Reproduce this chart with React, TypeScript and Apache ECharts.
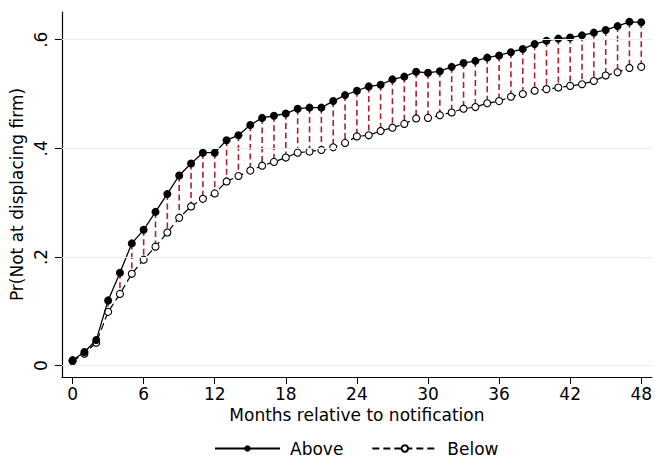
import React, { useEffect, useRef } from "react";
import * as echarts from "echarts";

const months = [
  0, 1, 2, 3, 4, 5, 6, 7, 8, 9, 10, 11, 12, 13, 14, 15, 16, 17, 18, 19, 20, 21, 22, 23, 24,
  25, 26, 27, 28, 29, 30, 31, 32, 33, 34, 35, 36, 37, 38, 39, 40, 41, 42, 43, 44, 45, 46, 47, 48,
];
const above = [
  0.01, 0.025, 0.047, 0.12, 0.171, 0.225, 0.25, 0.283, 0.316, 0.35, 0.372, 0.392, 0.392, 0.415,
  0.424, 0.443, 0.456, 0.46, 0.464, 0.473, 0.475, 0.475, 0.487, 0.498, 0.506, 0.514, 0.517, 0.527,
  0.532, 0.541, 0.539, 0.542, 0.55, 0.557, 0.561, 0.567, 0.571, 0.577, 0.583, 0.592, 0.598, 0.602,
  0.604, 0.608, 0.613, 0.618, 0.625, 0.633, 0.632,
];
const below = [
  0.008, 0.022, 0.042, 0.099, 0.132, 0.169, 0.195, 0.219, 0.245, 0.272, 0.293, 0.307, 0.317, 0.339,
  0.349, 0.359, 0.368, 0.375, 0.383, 0.392, 0.394, 0.397, 0.402, 0.41, 0.422, 0.424, 0.432, 0.438,
  0.445, 0.455, 0.456, 0.461, 0.466, 0.473, 0.476, 0.483, 0.487, 0.495, 0.5, 0.506, 0.509, 0.512,
  0.515, 0.518, 0.524, 0.534, 0.54, 0.548, 0.55,
];
const xTicks = [0, 6, 12, 18, 24, 30, 36, 42, 48];
const yTicks = [0, 0.2, 0.4, 0.6];

const FONT = "DejaVu Sans";

export default function App() {
  const ref = useRef<HTMLDivElement>(null);
  useEffect(() => {
    if (!ref.current) return;
    const chart = echarts.init(ref.current, null, { renderer: "svg" });
    const fmtY = (v: number) => {
      const r = Math.round(v * 10) / 10;
      if (r === 0) return "0";
      return String(r).replace(/^0/, "");
    };
    chart.setOption({
      animation: false,
      backgroundColor: "#ffffff",
      textStyle: { fontFamily: FONT },
      grid: { left: 58, right: 1, top: 12, bottom: 80, containLabel: false },
      xAxis: {
        type: "value",
        min: -0.9,
        max: 48.9,
        name: "Months relative to notification",
        nameLocation: "middle",
        nameGap: 26,
        nameTextStyle: { fontFamily: FONT, fontSize: 17, color: "#000" },
        axisLine: { show: true, onZero: false, lineStyle: { color: "#000", width: 1.2 } },
        axisTick: { show: true, length: 7, customValues: xTicks, lineStyle: { color: "#000" } },
        axisLabel: {
          customValues: xTicks,
          fontFamily: FONT,
          fontSize: 17,
          color: "#000",
          margin: 8,
        },
        splitLine: { show: false },
      },
      yAxis: {
        type: "value",
        min: -0.021,
        max: 0.651,
        name: "Pr(Not at displacing firm)",
        nameLocation: "middle",
        nameGap: 34,
        nameTextStyle: { fontFamily: FONT, fontSize: 17, color: "#000" },
        axisLine: { show: true, onZero: false, lineStyle: { color: "#000", width: 1.2 } },
        axisTick: { show: true, length: 7, customValues: yTicks, lineStyle: { color: "#000" } },
        axisLabel: {
          customValues: yTicks,
          rotate: 90,
          fontFamily: FONT,
          fontSize: 17,
          color: "#000",
          margin: 12,
          formatter: fmtY,
        },
        splitLine: { show: false },
      },
      legend: {
        left: 214,
        top: 440,
        padding: 0,
        itemWidth: 65,
        itemHeight: 8,
        itemGap: 28,
        textStyle: { fontFamily: FONT, fontSize: 17, color: "#000", padding: [0, 0, 0, 5] },
        data: ["Above", "Below"],
      },
      series: [
        {
          name: "grid",
          type: "line",
          data: [],
          silent: true,
          markLine: {
            silent: true,
            symbol: "none",
            label: { show: false },
            lineStyle: { color: "#e6eef1", type: "solid", width: 1.2 },
            data: yTicks.map((v) => ({ yAxis: v })),
          },
        },
        {
          name: "gap",
          type: "custom",
          silent: true,
          z: 1,
          data: months.map((m, i) => [m, above[i], below[i]]),
          renderItem: (_params: any, api: any) => {
            const p1 = api.coord([api.value(0), api.value(1)]);
            const p2 = api.coord([api.value(0), api.value(2)]);
            return {
              type: "line",
              shape: { x1: p1[0], y1: p1[1], x2: p2[0], y2: p2[1] },
              style: { stroke: "#a8222f", lineWidth: 1.6, lineDash: [6, 3.5] },
            };
          },
        },
        {
          name: "Above",
          type: "line",
          z: 3,
          data: months.map((m, i) => [m, above[i]]),
          symbol: "circle",
          symbolSize: 8,
          showAllSymbol: true,
          itemStyle: { color: "#000", borderColor: "#000", borderWidth: 0 },
          lineStyle: { color: "#000", width: 1.3, type: "solid" },
        },
        {
          name: "Below",
          type: "line",
          z: 2,
          data: months.map((m, i) => [m, below[i]]),
          symbol: "circle",
          symbolSize: 7,
          showAllSymbol: true,
          itemStyle: { color: "#fff", borderColor: "#000", borderWidth: 1.1 },
          lineStyle: { color: "#000", width: 1.2, type: [7, 4] },
        },
      ],
    });
    return () => chart.dispose();
  }, []);
  return <div ref={ref} style={{ width: 655, height: 457, position: "absolute", left: 0, top: 0 }} />;
}
